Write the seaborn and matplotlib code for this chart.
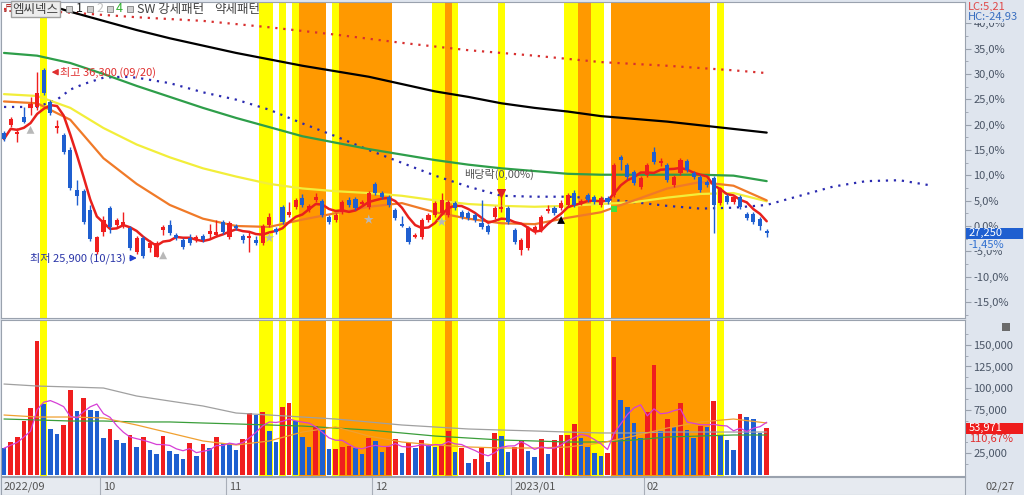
import numpy as np
import pandas as pd
import matplotlib
matplotlib.use("Agg")
import matplotlib.pyplot as plt
from matplotlib.patches import Rectangle
import seaborn as sns

# 일봉 (2022/09/08 ~ 2023/02/27), 단위: 원
opens = [32750, 33150, 32650, 33600, 34100, 34150, 36150, 34400, 33000, 32600,
         31800, 29600, 29550, 28500, 26250, 27300, 28650, 27700, 27650, 27550,
         26250, 27000, 26450, 25950, 27450, 27700, 27150, 26900, 27000, 26900,
         27100, 27200, 27150, 27850, 27050, 27650, 27100, 27000, 26900, 26700,
         27700, 27500, 28700, 28250, 28700, 29200, 28500, 29050, 29000, 28150,
         28000, 28400, 29050, 29100, 28850, 28700, 29950, 29450, 29250, 28500,
         27750, 27550, 27050, 27050, 28000, 28250, 28350, 28250, 28900, 28400,
         28350, 28250, 27800, 27650, 28150, 28600, 28650, 27450, 26350, 26450,
         27300, 27450, 28450, 28650, 28650, 28800, 29450, 28900, 29350, 29250,
         28800, 29200, 29350, 31400, 31000, 30600, 29800, 30450, 31700, 31100,
         31000, 29900, 30550, 31200, 30550, 30350, 30050, 30250, 28900, 29300,
         28950, 29250, 28300, 28300, 28050, 27400]
highs = [32850, 33600, 33000, 34150, 34700, 36050, 36300, 34550, 33450, 32750,
         31950, 30150, 29650, 28800, 27100, 28200, 28750, 28100, 28400, 27650,
         27100, 27100, 26900, 26850, 27700, 28000, 27250, 27000, 27200, 27150,
         27200, 27750, 28000, 28000, 27900, 27750, 27200, 27300, 27100, 27750,
         28350, 27600, 28800, 28950, 29200, 29400, 28850, 29450, 29100, 28250,
         28350, 29050, 29250, 29250, 29050, 29550, 30050, 29550, 29350, 28650,
         28200, 27650, 27250, 28100, 28350, 29000, 29450, 29050, 29000, 28500,
         28450, 28350, 29050, 27750, 28750, 28800, 28750, 27550, 27000, 27650,
         27700, 28250, 28800, 28750, 29050, 29450, 29600, 29100, 29450, 29350,
         29300, 29300, 31100, 31550, 31100, 30700, 30400, 31100, 31950, 31350,
         31100, 30450, 31350, 31300, 30650, 30450, 30150, 30400, 29800, 29400,
         29350, 29350, 28400, 28400, 28150, 27500]
lows = [32300, 33050, 32250, 33250, 33700, 34000, 34800, 33700, 32750, 31600,
        29600, 28800, 27750, 26850, 26100, 27100, 27250, 27550, 27550, 26350,
        26100, 25900, 26250, 25950, 27150, 27150, 26900, 26400, 26600, 26800,
        26800, 27000, 27050, 27200, 26950, 27450, 26700, 26250, 26600, 26600,
        27600, 27200, 27750, 28150, 28600, 28700, 28400, 28950, 28150, 27750,
        27850, 28300, 28700, 28500, 28750, 28600, 29350, 29100, 28700, 28000,
        27600, 26650, 27000, 26950, 27850, 28150, 28250, 28150, 28500, 28050,
        28000, 27850, 27500, 27200, 28050, 28400, 27750, 26650, 26050, 26350,
        27200, 27300, 28350, 28250, 28500, 28700, 28700, 28800, 28950, 28850,
        28700, 28850, 29250, 30700, 30200, 29900, 29650, 30350, 31050, 30950,
        30050, 29800, 30450, 30600, 30200, 29500, 29800, 27250, 28800, 28850,
        28850, 28600, 28000, 27750, 27450, 27050]
closes = [32400, 33500, 32800, 33350, 34300, 34900, 34900, 33800, 33100, 31700,
          29700, 29300, 27850, 26950, 27050, 28000, 27600, 28000, 27850, 26450,
          27000, 26000, 26700, 26700, 27600, 27250, 27000, 26500, 26700, 27050,
          26900, 27400, 27300, 27300, 27800, 27550, 26900, 27100, 26700, 27650,
          28150, 27300, 27850, 28400, 29050, 28800, 28750, 29250, 28250, 27850,
          28250, 28950, 28800, 28650, 28950, 29450, 29450, 29250, 28800, 28100,
          27650, 26800, 27150, 28000, 28250, 28900, 29050, 28950, 28650, 28150,
          28100, 28000, 27600, 27300, 28650, 28700, 27850, 26800, 26900, 27550,
          27600, 28150, 28600, 28350, 28900, 29350, 28800, 29000, 29050, 28950,
          29200, 28950, 31000, 31250, 30350, 30000, 30250, 31000, 31150, 31200,
          30150, 30350, 31250, 30700, 30350, 29600, 29900, 28800, 29700, 28950,
          29250, 28700, 28100, 27850, 27650, 27250]
volumes = [30800, 37700, 44100, 62600, 76800, 154700, 81400, 53000, 46900, 57600,
           97900, 74100, 88300, 74900, 73700, 42300, 53000, 40300, 37200, 46100,
           32600, 44100, 28800, 24200, 45300, 28000, 24200, 18100, 36500, 21900,
           35700, 31500, 44100, 36500, 35700, 28800, 41100, 71800, 68800, 72900,
           50700, 38400, 78000, 82600, 62200, 43400, 32600, 56400, 51800, 29600,
           30000, 31900, 33400, 31500, 24200, 42300, 39500, 26500, 31900, 41100,
           25000, 36500, 31500, 40300, 34600, 32600, 34600, 50700, 26800, 30800,
           14200, 18800, 31500, 15300, 48700, 45300, 26100, 32600, 39500, 28000,
           21100, 41100, 24200, 40300, 46100, 46500, 58400, 42300, 32600, 25000,
           21900, 25000, 136300, 86400, 78700, 60300, 42300, 72900, 126700, 50700,
           64500, 55600, 82600, 51800, 43000, 56800, 54900, 85200, 45300, 40300,
           28800, 69900, 66500, 64500, 48766, 53971]

# 이동평균선 (5일 간격으로 읽은 값)
ma_days = list(range(0, 120, 5))
ma_orange = [34450, 34350, 33450, 31350, 29950, 28800, 28050, 27650, 27600, 28000,
             28350, 28700, 28900, 28400, 28050, 27800, 27750, 28100, 28400, 29050,
             29700, 30050, 29850, 29050]
ma_yellow = [34850, 34750, 34100, 33000, 32100, 31400, 30800, 30350, 29950, 29700,
             29550, 29450, 29300, 29050, 28850, 28750, 28700, 28750, 28850, 28950,
             29200, 29400, 29450, 29000]
ma_green = [37100, 36950, 36550, 35950, 35300, 34700, 34100, 33550, 33050, 32550,
            32200, 31850, 31550, 31250, 31000, 30800, 30650, 30500, 30450, 30450,
            30450, 30450, 30400, 30100]
black_days = list(range(5, 120, 5))
ma_black = [39900, 39350, 38850, 38350, 37900, 37500, 37100, 36750, 36400, 36100,
            35800, 35400, 35000, 34700, 34350, 34100, 33900, 33650, 33500, 33350,
            33150, 32950, 32750]
red_dot_days = [0, 10, 20, 30, 40, 50, 60, 70, 80, 90, 100, 110, 115]
red_dot = [39500, 39300, 39050, 38850, 38500, 38100, 37650, 37250, 36950, 36600,
           36400, 36150, 36000]
blue_dot_days = [0, 5, 8, 10, 12, 15, 18, 20, 25, 30, 35, 40, 45, 50, 55, 60,
                 65, 70, 75, 80, 85, 90, 95, 100, 105, 110, 115, 120, 125, 130, 135, 140]
blue_dot = [34150, 34150, 34550, 35100, 35400, 35750, 35800, 35750, 35450, 34950,
            34550, 34000, 33250, 32550, 31800, 31100, 30400, 29800, 29300, 29250,
            29250, 29150, 28950, 28750, 28600, 28650, 28800, 29300, 29800, 30100,
            30150, 29850]

# 거래량 이동평균
vma_days = list(range(0, 120, 5))
vma_gray = [104800, 102500, 101400, 100200, 91000, 85200, 79500, 71400, 69100, 66800,
            64500, 61100, 57600, 55300, 53000, 51800, 50700, 49500, 48400, 48400,
            49500, 49500, 49500, 49500]
vma_green = [64500, 63400, 62200, 62200, 61100, 61100, 59900, 58800, 57600, 56400,
             54100, 51800, 48400, 44900, 42600, 40300, 39200, 38000, 38000, 40300,
             43800, 44900, 46100, 46100]
vma_orange = [69100, 66800, 66800, 65700, 57600, 48400, 39200, 34600, 39200, 49500,
              55300, 44900, 38000, 34600, 32300, 31100, 31100, 32300, 36900, 44900,
              54100, 61100, 64500, 59900]

# SW 강세/약세 패턴 구간
yellow_days = [6, 39, 40, 42, 44, 50, 65, 66, 68, 75, 85, 86, 89, 90, 108]
orange_days = [45, 46, 47, 48, 51, 52, 53, 54, 55, 56, 57, 58, 67, 87, 88,
               92, 93, 94, 95, 96, 97, 98, 99, 100, 101, 102, 103, 104, 105, 106]

gray_arrow_days = [4, 24]
gray_arrow_prices = [32900, 26050]
gray_star_days = [40, 55, 66]
gray_star_prices = [27000, 28000, 27870]

month_starts = [0, 15, 34, 56, 77, 97]
month_labels = ["2022/09", "10", "11", "12", "2023/01", "02"]

base_price = 27650
pct_ticks = [-15, -10, -5, 0, 5, 10, 15, 20, 25, 30, 35, 40]
vol_ticks = [25000, 75000, 100000, 125000, 150000]

W, H = 1024, 495
BG = "#dfe5ee"
RED = "#f01e1e"
BLUE = "#1f5fd0"
AXC = "#9aa2ae"
TXT = "#4a5566"


def fx(px):
    return px / W


def fy(py):
    return 1 - py / H


def main():
    sns.set_theme(style="white")
    plt.rcParams["font.family"] = ["Noto Sans CJK KR", "DejaVu Sans"]
    plt.rcParams["axes.unicode_minus"] = False

    n = len(closes)
    idx = np.arange(n)
    df = pd.DataFrame({"open": opens, "high": highs, "low": lows,
                       "close": closes, "volume": volumes}, index=idx)
    df["ma5"] = df["close"].rolling(5, min_periods=1).mean()
    df["vma5"] = df["volume"].rolling(5, min_periods=1).mean()
    up = df["close"] >= df["open"]
    candle_cols = np.where(up, RED, BLUE)
    vol_up = df["volume"] >= df["volume"].shift(1)
    vol_cols = np.where(vol_up, RED, BLUE)

    fig = plt.figure(figsize=(W / 100, H / 100), dpi=100, facecolor=BG)
    ax = fig.add_axes([fx(1), fy(318), fx(964), fy(2) - fy(318)])
    axv = fig.add_axes([fx(1), fy(476), fx(964), fy(320) - fy(476)])
    axd = fig.add_axes([fx(1), 0, fx(964), fy(477)])

    xlim = (-0.45, 144.9)
    for a in (ax, axv):
        a.set_facecolor("white")
        for d in yellow_days:
            a.axvspan(d - 0.5, d + 0.5, color="#ffff00", lw=0, zorder=0)
        for d in orange_days:
            a.axvspan(d - 0.5, d + 0.5, color="#ff9900", lw=0, zorder=0)

    # ---- 가격 차트 ----
    line_kw = dict(ax=ax, legend=False)
    sns.lineplot(x=red_dot_days, y=red_dot, color="#d83030", linewidth=1.6,
                 linestyle=(0, (1, 2.6)), zorder=2, **line_kw)
    sns.lineplot(x=blue_dot_days, y=blue_dot, color="#2a2ab0", linewidth=1.6,
                 linestyle=(0, (1, 2.6)), zorder=2, **line_kw)
    sns.lineplot(x=black_days, y=ma_black, color="black", linewidth=1.6, zorder=2, **line_kw)
    sns.lineplot(x=ma_days, y=ma_green, color="#2e9e4a", linewidth=1.6, zorder=2, **line_kw)
    sns.lineplot(x=ma_days, y=ma_yellow, color="#f2ee3a", linewidth=1.6, zorder=2, **line_kw)
    sns.lineplot(x=ma_days, y=ma_orange, color="#f07a28", linewidth=1.6, zorder=2, **line_kw)
    sns.lineplot(x=idx, y=df["ma5"].values, color="#e8201c", linewidth=1.8, zorder=3, **line_kw)

    ax.vlines(idx, df["low"], df["high"], colors=candle_cols, linewidth=1, zorder=4)
    body = np.maximum((df["close"] - df["open"]).abs(), 60)
    bottom = np.minimum(df["open"], df["close"])
    ax.bar(idx, body, bottom=bottom, width=0.62, color=candle_cols, linewidth=0, zorder=5)

    sns.scatterplot(x=gray_arrow_days, y=gray_arrow_prices, marker="^", s=32,
                    color="#b8b8b8", edgecolor="none", ax=ax, zorder=6, legend=False)
    sns.scatterplot(x=gray_star_days, y=gray_star_prices, marker="*", s=55,
                    color="#b8b8b8", edgecolor="none", ax=ax, zorder=6, legend=False)
    sns.scatterplot(x=[84], y=[27980], marker="^", s=32, color="black",
                    edgecolor="none", ax=ax, zorder=6, legend=False)
    sns.scatterplot(x=[92], y=[28580], marker="s", s=18, color="#40e040",
                    edgecolor="none", ax=ax, zorder=6, legend=False)

    # 최고 / 최저 표시
    hi_i = int(df["high"].idxmax())
    lo_i = int(df["low"].idxmin())
    hi, lo = df["high"].max(), df["low"].min()
    ax.annotate("", xy=(hi_i + 0.75, hi - 250), xytext=(hi_i + 2.4, hi - 250),
                arrowprops=dict(arrowstyle="-|>", color="#e03030", lw=1, mutation_scale=9),
                zorder=7)
    ax.text(hi_i + 2.4, hi - 250, f"최고 {hi:,} (09/20)", color="#e03030",
            fontsize=8, va="center", ha="left", zorder=7)
    ax.text(lo_i - 2.6, lo, f"최저 {lo:,} (10/13)", color="#2a35a8",
            fontsize=8, va="center", ha="right", zorder=7)
    ax.annotate("", xy=(lo_i - 0.55, lo), xytext=(lo_i - 2.4, lo),
                arrowprops=dict(arrowstyle="-|>", color="#2040d0", lw=1, mutation_scale=9),
                zorder=7)
    # 배당락
    ax.text(74.6, 30450, "배당락(0,00%)", color="#555555", fontsize=8,
            ha="center", va="center", zorder=7)
    ax.vlines([75], 28800, 29650, colors="#e02020", linewidth=1, zorder=7)
    ax.scatter([75], [29450], marker="v", s=30, color="#e02020", zorder=7)

    ax.set_xlim(*xlim)
    ax.set_ylim(22627, 39881)
    ax.set_xticks([])
    ax.yaxis.tick_right()
    ax.set_yticks([base_price * (1 + p / 100) for p in pct_ticks])
    ax.set_yticklabels([f"{p:.1f}%".replace(".", ",") for p in pct_ticks])
    minor = [base_price * (1 + p / 100) for p in np.arange(-17.5, 42.5, 2.5)]
    ax.set_yticks(minor, minor=True)
    ax.tick_params(axis="y", which="major", length=4, width=0.8, color=AXC,
                   labelsize=8, labelcolor=TXT, pad=2, right=True, direction="out")
    ax.tick_params(axis="y", which="minor", length=2, width=0.6, color=AXC, right=True)

    # ---- 거래량 ----
    axv.bar(idx, df["volume"], width=0.7, color=vol_cols, linewidth=0, zorder=2)
    vkw = dict(ax=axv, legend=False, linewidth=0.9, zorder=3)
    sns.lineplot(x=vma_days, y=vma_gray, color="#a0a0a0", **vkw)
    sns.lineplot(x=vma_days, y=vma_green, color="#3a9e3a", **vkw)
    sns.lineplot(x=vma_days, y=vma_orange, color="#f0a030", **vkw)
    sns.lineplot(x=idx, y=df["vma5"].values, color="#d63fd6", **vkw)
    axv.set_xlim(*xlim)
    axv.set_ylim(-1152, 178560)
    axv.set_xticks([])
    axv.yaxis.tick_right()
    axv.set_yticks(vol_ticks)
    axv.set_yticklabels([f"{v:,}" for v in vol_ticks])
    axv.set_yticks(np.arange(12500, 175000, 12500), minor=True)
    axv.tick_params(axis="y", which="major", length=4, width=0.8, color=AXC,
                    labelsize=8, labelcolor=TXT, pad=2, right=True, direction="out")
    axv.tick_params(axis="y", which="minor", length=2, width=0.6, color=AXC, right=True)

    # ---- 날짜 ----
    axd.set_facecolor("#e6eaf0")
    axd.set_xlim(*xlim)
    axd.set_ylim(0, 1)
    axd.set_xticks([])
    axd.set_yticks([])
    for s, lab in zip(month_starts, month_labels):
        if s > 0:
            axd.axvline(s - 0.5, color="#a8aeb8", lw=0.8)
        axd.text(s - 0.05, 0.45, lab, fontsize=8, color="#555555", va="center", ha="left")

    for a in (ax, axv, axd):
        for sp in a.spines.values():
            sp.set_color(AXC)
            sp.set_linewidth(0.8)

    # 현재가 / 거래량 박스
    tr = ax.get_yaxis_transform()
    last = closes[-1]
    chg = (closes[-1] / closes[-2] - 1) * 100
    ax.add_patch(Rectangle((1.001, last - 300), 57 / 964, 600, transform=tr,
                           clip_on=False, facecolor="#1f5fd0", edgecolor="none", zorder=10))
    ax.text(1.004, last, f"{last:,}", transform=tr, color="white", fontsize=8,
            va="center", ha="left", zorder=11, clip_on=False)
    ax.text(1.004, last - 620, f"{chg:.2f}%".replace(".", ","), transform=tr,
            color="#2f6fd0", fontsize=8, va="center", ha="left", zorder=11, clip_on=False,
            bbox=dict(facecolor=BG, edgecolor="none", pad=0.6))

    trv = axv.get_yaxis_transform()
    vlast = volumes[-1]
    vr = volumes[-1] / volumes[-2] * 100
    axv.add_patch(Rectangle((1.001, vlast - 6300), 57 / 964, 12600, transform=trv,
                            clip_on=False, facecolor="#ee1c1c", edgecolor="none", zorder=10))
    axv.text(1.004, vlast, f"{vlast:,}", transform=trv, color="white", fontsize=8,
             va="center", ha="left", zorder=11, clip_on=False)
    axv.text(1.004, vlast - 13000, f"{vr:.2f}%".replace(".", ","), transform=trv,
             color="#e03030", fontsize=8, va="center", ha="left", zorder=11, clip_on=False,
             bbox=dict(facecolor=BG, edgecolor="none", pad=0.6))

    # 오른쪽 상단 LC / HC
    fig.text(fx(968), fy(7), "LC:5,21", color="#e04848", fontsize=8, va="center")
    fig.text(fx(968), fy(17), "HC:-24,93", color="#3a6fc0", fontsize=8, va="center",
             bbox=dict(facecolor=BG, edgecolor="none", pad=0.8))
    fig.add_artist(Rectangle((fx(1002), fy(331)), fx(8), 8 / H, transform=fig.transFigure,
                             facecolor="#6a6a6a", edgecolor="none"))
    fig.text(fx(985), fy(487), "02/27", color="#555555", fontsize=8, va="center")

    # 상단 범례
    fig.text(fx(2), fy(9), "♬", color="#b03030", fontsize=8, va="center",
             family=["DejaVu Sans"])
    fig.text(fx(12), fy(9), "엠씨넥스", color="#404040", fontsize=9, va="center",
             bbox=dict(facecolor="#ececec", edgecolor="#a0a0a0", boxstyle="square,pad=0.12"))
    for sx in (66, 87, 107, 127):
        fig.add_artist(Rectangle((fx(sx), fy(12)), fx(6), 6 / H, transform=fig.transFigure,
                                 facecolor="#d0d0d0", edgecolor="#808080", linewidth=0.6))
    fig.text(fx(76), fy(9), "1", color="#202020", fontsize=9, va="center")
    fig.text(fx(96), fy(9), "2", color="#c0c0c0", fontsize=9, va="center")
    fig.text(fx(116), fy(9), "4", color="#30b030", fontsize=9, va="center")
    fig.text(fx(137), fy(9), "SW 강세패턴", color="#404040", fontsize=9, va="center")
    fig.text(fx(214), fy(9), "약세패턴", color="#404040", fontsize=9, va="center")

    fig.savefig("out.png", dpi=100, facecolor=BG)


if __name__ == "__main__":
    main()
